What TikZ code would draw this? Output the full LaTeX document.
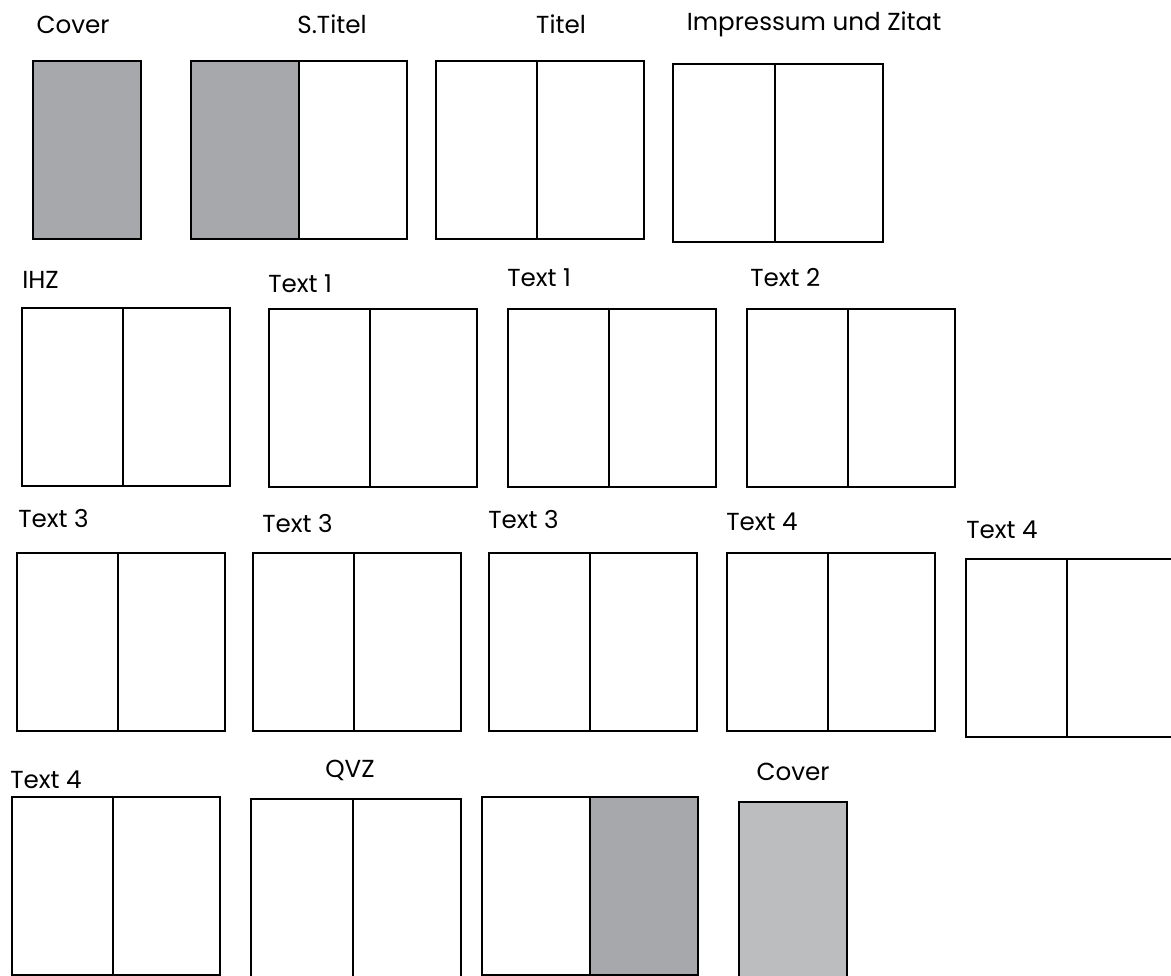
\documentclass[tikz,border=0pt]{standalone}
\usepackage{fontspec}
\setmainfont{Poppins}
\usepackage{tikz}
\usetikzlibrary{positioning,calc}
\definecolor{darkpage}{HTML}{a7a8ab}
\definecolor{lightpage}{HTML}{bcbdbf}

\begin{document}
\begin{tikzpicture}[
  x=0.025cm,y=-0.025cm,
  font=\fontsize{17.5}{20}\selectfont,
  page/.style={draw=black,line width=1.4pt,anchor=north west,inner sep=0pt,minimum width=2.7cm,minimum height=4.45cm},
  spread/.style={page,minimum width=5.2cm},
  wide/.style={page,minimum width=5.4cm},
  leftgray/.style={path picture={\fill[darkpage] (path picture bounding box.north west) rectangle (path picture bounding box.south);}},
  rightgray/.style={path picture={\fill[darkpage] (path picture bounding box.north) rectangle (path picture bounding box.south east);}},
  lbl/.style={anchor=base west,inner sep=0pt},
  clbl/.style={anchor=base,inner sep=0pt},
  fold/.style={line width=1.4pt}]
  \useasboundingbox (0,0) rectangle (1171,975);
  \clip (0,0) rectangle (1171,975);
  % row 1
  \node[page,fill=darkpage] (cov1) at (32,60) {};
  \node[wide,leftgray] (stitel) at (190,60) {};
  \node[spread] (titel) at (435,60) {};
  \node[spread,minimum width=5.25cm] (impr) at (672,63) {};
  \node[clbl] (lcov1) at (73,33) {Cover};
  \node[clbl] (lstitel) at (332,33) {S.Titel};
  \node[clbl] (ltitel) at (561,33) {Titel};
  \node[clbl] (limpr) at (814,30) {Impressum und Zitat};
  % row 2
  \node[spread] (ihz) at (21,307) {};
  \node[spread] (texta) at (268,308) {};
  \node[spread] (textb) at (507,308) {};
  \node[spread] (textc) at (746,308) {};
  \node[lbl] (lihz) at (22,288) {IHZ};
  \node[lbl] (ltexta) at (268,292) {Text 1};
  \node[lbl] (ltextb) at (507,286) {Text 1};
  \node[lbl] (ltextc) at (750,286) {Text 2};
  % row 3
  \node[spread] (textd) at (16,552) {};
  \node[spread] (texte) at (252,552) {};
  \node[spread] (textf) at (488,552) {};
  \node[spread] (textg) at (726,552) {};
  \node[spread] (texth) at (965,558) {};
  \node[lbl] (ltextd) at (18,527) {Text 3};
  \node[lbl] (ltexte) at (262,532) {Text 3};
  \node[lbl] (ltextf) at (488,528) {Text 3};
  \node[lbl] (ltextg) at (726,530) {Text 4};
  \node[lbl] (ltexth) at (966,538) {Text 4};
  % row 4
  \node[spread] (texti) at (11,796) {};
  \node[spread,minimum width=5.25cm,minimum height=4.7cm] (qvz) at (250,798) {};
  \node[wide,rightgray] (blank) at (481,796) {};
  \node[page,fill=lightpage,minimum height=4.7cm] (cov2) at (738,801) {};
  \node[lbl] (ltexti) at (10,788) {Text 4};
  \node[clbl] (lqvz) at (350,777) {QVZ};
  \node[clbl] (lcov2) at (793,780) {Cover};
  % folds
  \foreach \s in {titel,impr,ihz,texta,textb,textc,textd,texte,textf,textg,texth,texti,qvz}
    \draw[fold] ([xshift=-0.08cm]\s.north) -- ([xshift=-0.08cm]\s.south);
  \draw[fold] (stitel.north) -- (stitel.south);
  \draw[fold] (blank.north) -- (blank.south);
\end{tikzpicture}
\end{document}
